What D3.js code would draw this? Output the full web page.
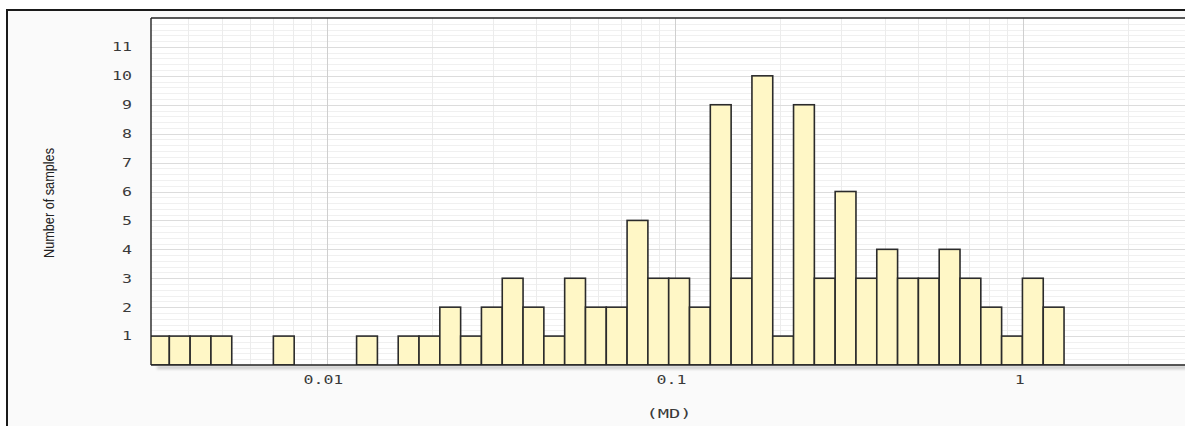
<!DOCTYPE html>
<html>
<head>
<meta charset="utf-8">
<script src="https://cdn.jsdelivr.net/npm/d3@7"></script>
<style>
  html, body { margin: 0; padding: 0; background: #fff; }
  svg { display: block; }
</style>
</head>
<body>
<svg id="chart" width="1185" height="426"></svg>
<script>
// Histogram of MD values, counted in equal-width bins on a log10 axis
const binCounts = [1, 1, 1, 1, 0, 0, 1, 0, 0, 0, 1, 0, 1, 1, 2, 1, 2, 3, 2, 1, 3, 2,
                   2, 5, 3, 3, 2, 9, 3, 10, 1, 9, 3, 6, 3, 4, 3, 3, 4, 3, 2, 1, 3, 2];
const binLog10Start = -2.5124;   // lower edge of the first bin, log10(MD)
const binLog10Width = 0.05977;   // width of each bin in decades
const xTickValues = [0.01, 0.1, 1];
const xTickLabels = ["0.01", "0.1", "1"];
const yTickValues = [1, 2, 3, 4, 5, 6, 7, 8, 9, 10, 11];
const xDomain = [0.003124, 3.2];
const yDomain = [0, 12];
const xTitle = "(MD)";
const yTitle = "Number of samples";

const bins = binCounts.map((count, i) => ({
  x0: Math.pow(10, binLog10Start + i * binLog10Width),
  x1: Math.pow(10, binLog10Start + (i + 1) * binLog10Width),
  count
}));

const svg = d3.select("#chart");
const W = 1185, H = 426;
const plot = { left: 151, top: 18, right: 1199, bottom: 365 };
const tickFont = "'DejaVu Sans Mono', 'Liberation Mono', monospace";

const x = d3.scaleLog().domain(xDomain).range([plot.left, plot.right]);
const y = d3.scaleLinear().domain(yDomain).range([plot.bottom, plot.top]);

const defs = svg.append("defs");
const blur = defs.append("filter").attr("id", "shadow")
  .attr("x", "-5%").attr("y", "-100%").attr("width", "110%").attr("height", "400%");
blur.append("feGaussianBlur").attr("stdDeviation", 1.6);
defs.append("clipPath").attr("id", "plotClip")
  .append("rect")
  .attr("x", plot.left).attr("y", plot.top)
  .attr("width", plot.right - plot.left).attr("height", plot.bottom - plot.top);

// outer frame
svg.append("rect").attr("x", 0).attr("y", 0).attr("width", W).attr("height", H).attr("fill", "#fff");
svg.append("rect")
  .attr("x", 7).attr("y", 10).attr("width", W + 20).attr("height", H + 20)
  .attr("fill", "#fafafa").attr("stroke", "#1a1a1a").attr("stroke-width", 2);

// plot background
svg.append("rect")
  .attr("x", plot.left).attr("y", plot.top)
  .attr("width", plot.right - plot.left).attr("height", plot.bottom - plot.top)
  .attr("fill", "#fff");

const grid = svg.append("g").attr("clip-path", "url(#plotClip)");

// minor horizontal grid every 0.2
const yMinor = d3.range(1, 60).map(i => i * 0.2).filter(v => Math.abs(v - Math.round(v)) > 1e-6);
grid.selectAll("line.ymin").data(yMinor).join("line")
  .attr("x1", plot.left).attr("x2", plot.right)
  .attr("y1", d => Math.round(y(d)) + 0.5).attr("y2", d => Math.round(y(d)) + 0.5)
  .attr("stroke", "#f0f0f0").attr("stroke-width", 1);

// minor vertical grid (2..9 within each decade)
const xMinor = x.ticks().filter(v => !xTickValues.includes(v) && v !== 0.001 && v !== 10);
grid.selectAll("line.xmin").data(xMinor).join("line")
  .attr("x1", d => Math.round(x(d)) + 0.5).attr("x2", d => Math.round(x(d)) + 0.5)
  .attr("y1", plot.top).attr("y2", plot.bottom)
  .attr("stroke", "#ececec").attr("stroke-width", 1);

// major horizontal grid
grid.selectAll("line.ymaj").data(yTickValues).join("line")
  .attr("x1", plot.left).attr("x2", plot.right)
  .attr("y1", d => Math.round(y(d)) + 0.5).attr("y2", d => Math.round(y(d)) + 0.5)
  .attr("stroke", "#dcdcdc").attr("stroke-width", 1);

// major vertical grid (decades)
grid.selectAll("line.xmaj").data(xTickValues).join("line")
  .attr("x1", d => Math.round(x(d)) + 0.5).attr("x2", d => Math.round(x(d)) + 0.5)
  .attr("y1", plot.top).attr("y2", plot.bottom)
  .attr("stroke", "#cfcfcf").attr("stroke-width", 1);

// shadow beneath the baseline
svg.append("rect")
  .attr("x", plot.left + 6).attr("y", plot.bottom + 1)
  .attr("width", plot.right - plot.left).attr("height", 3)
  .attr("fill", "#9a9a9a").attr("opacity", 0.55)
  .attr("filter", "url(#shadow)");

// bars
svg.append("g").attr("clip-path", "url(#plotClip)")
  .selectAll("rect.bar")
  .data(bins.filter(b => b.count > 0))
  .join("rect")
  .attr("class", "bar")
  .attr("x", d => x(d.x0))
  .attr("width", d => x(d.x1) - x(d.x0))
  .attr("y", d => y(d.count))
  .attr("height", d => y(0) - y(d.count))
  .attr("fill", "#fff7c6")
  .attr("stroke", "#2b2b2b")
  .attr("stroke-width", 1.6);

// plot border: top, left, bottom
svg.append("line").attr("x1", plot.left).attr("x2", W + 10)
  .attr("y1", plot.top).attr("y2", plot.top).attr("stroke", "#222").attr("stroke-width", 1.4);
svg.append("line").attr("x1", plot.left).attr("x2", plot.left)
  .attr("y1", plot.top).attr("y2", plot.bottom).attr("stroke", "#222").attr("stroke-width", 1.4);
svg.append("line").attr("x1", plot.left).attr("x2", W + 10)
  .attr("y1", plot.bottom).attr("y2", plot.bottom).attr("stroke", "#222").attr("stroke-width", 1.6);

// y axis labels (wide monospace digits)
const yAxis = d3.axisLeft(y).tickValues(yTickValues).tickSize(0).tickPadding(0);
const yg = svg.append("g").attr("transform", `translate(${132},0)`).call(yAxis);
yg.select(".domain").remove();
yg.selectAll("text")
  .attr("x", 0)
  .attr("transform", "scale(1.38,1)")
  .attr("font-family", tickFont)
  .attr("font-size", 12)
  .attr("fill", "#3a3a3a");

// x axis labels
const xAxis = d3.axisBottom(x).tickValues(xTickValues)
  .tickFormat((d, i) => xTickLabels[i]).tickSize(0).tickPadding(0);
const xg = svg.append("g").attr("transform", `translate(-4,${plot.bottom + 10})`).call(xAxis);
xg.select(".domain").remove();
xg.selectAll("text")
  .attr("transform", "scale(1.38,1)")
  .attr("font-family", tickFont)
  .attr("font-size", 12)
  .attr("fill", "#3a3a3a");

// axis titles
svg.append("g").attr("transform", `translate(${x(0.1) - 6},418)`)
  .append("text")
  .attr("transform", "scale(1.5,1)")
  .attr("text-anchor", "middle")
  .attr("font-family", tickFont)
  .attr("font-size", 12.5)
  .attr("fill", "#3a3a3a")
  .text(xTitle);

svg.append("text")
  .attr("transform", `translate(54,${203}) rotate(-90)`)
  .attr("text-anchor", "middle")
  .attr("font-family", "'Liberation Sans Narrow', 'Arial Narrow', sans-serif")
  .attr("font-size", 15)
  .attr("textLength", 110)
  .attr("lengthAdjust", "spacingAndGlyphs")
  .attr("fill", "#222")
  .text(yTitle);
</script>
</body>
</html>
